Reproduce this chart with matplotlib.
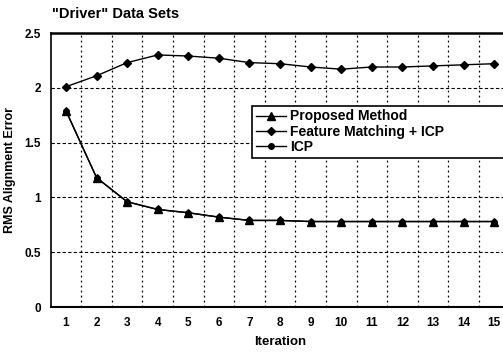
import matplotlib.pyplot as plt
import numpy as np

plt.rcParams['font.family'] = ['Liberation Sans', 'DejaVu Sans']

# iterations and RMS alignment error
iterations = np.arange(1, 16)
proposed = [1.79, 1.18, 0.96, 0.89, 0.86, 0.82, 0.79, 0.79, 0.78, 0.78, 0.78, 0.78, 0.78, 0.78, 0.78]
feat_icp = [2.01, 2.11, 2.23, 2.30, 2.29, 2.27, 2.23, 2.22, 2.19, 2.17, 2.19, 2.19, 2.20, 2.21, 2.22]
icp = [1.79, 1.18, 0.96, 0.89, 0.86, 0.82, 0.79, 0.79, 0.78, 0.78, 0.78, 0.78, 0.78, 0.78, 0.78]
yticks = [0, 0.5, 1, 1.5, 2, 2.5]
ytick_labels = ['0', '0.5', '1', '1.5', '2', '2.5']

fig = plt.figure(figsize=(5.03, 3.52), dpi=100)
ax = fig.add_axes([0.1008, 0.1278, 0.912, 0.7784])

ax.plot(iterations, proposed, color='black', marker='^', markersize=5.5,
        linewidth=1, label='Proposed Method')
ax.plot(iterations, feat_icp, color='black', marker='D', markersize=4.5,
        linewidth=1, label='Feature Matching + ICP')
ax.plot(iterations, icp, color='black', marker='o', markersize=4,
        linewidth=1, label='ICP')

ax.set_xlim(0.5, 15.5)
ax.set_ylim(0, 2.5)
ax.set_xticks(iterations)
ax.set_xticklabels([str(i) for i in iterations], fontsize=8.5, fontweight='bold')
ax.set_yticks(yticks)
ax.set_yticklabels(ytick_labels, fontsize=8.5, fontweight='bold')
ax.tick_params(length=0, pad=7)

# grid: dashed horizontals, dotted verticals between categories
for y in yticks[1:-1]:
    ax.axhline(y, color='black', linestyle=(0, (3, 2)), linewidth=0.8, zorder=0)
for x in np.arange(1.5, 15, 1):
    ax.axvline(x, color='black', linestyle=(0, (1.5, 2.5)), linewidth=0.9, zorder=0)

ax.spines['top'].set_linewidth(1.8)
ax.spines['bottom'].set_linewidth(1.5)
ax.spines['left'].set_linewidth(1.2)
ax.spines['right'].set_visible(False)

ax.set_xlabel('Iteration', fontsize=9.5, fontweight='bold', labelpad=5)
ax.set_ylabel('RMS Alignment Error', fontsize=9, fontweight='bold', labelpad=6)
fig.text(0.1034, 0.94, '"Driver" Data Sets', fontsize=10.5, fontweight='bold',
         ha='left', va='bottom')

leg = ax.legend(loc='upper left', bbox_to_anchor=(0.439, 0.548, 0.58, 0.186),
                mode='expand', borderaxespad=0,
                prop={'weight': 'bold', 'size': 10}, frameon=True, fancybox=False,
                handlelength=2.2, borderpad=0.25, labelspacing=0.1, handletextpad=0.3)
leg.get_frame().set_edgecolor('black')
leg.get_frame().set_linewidth(1.2)
leg.get_frame().set_alpha(1)

fig.savefig('out.png', dpi=100)
